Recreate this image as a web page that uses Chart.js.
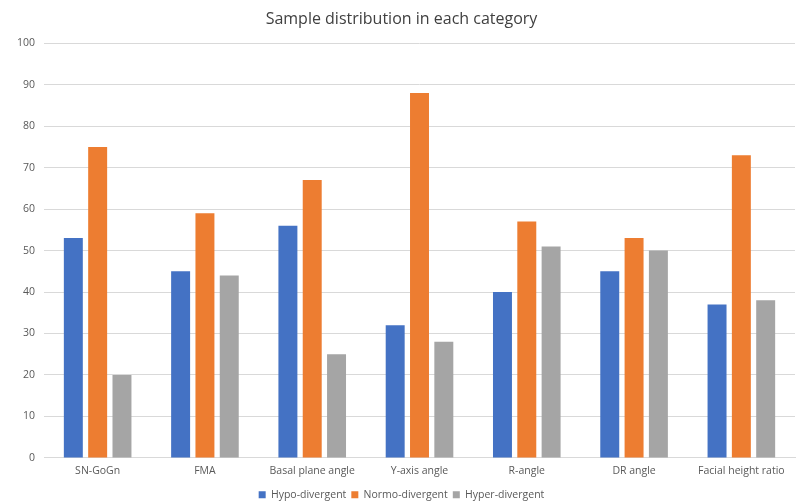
<!DOCTYPE html>
<html>
<head>
<meta charset="UTF-8">
<title>Sample distribution in each category</title>
<script src="https://cdn.jsdelivr.net/npm/chart.js@4"></script>
<style>
  html,body{margin:0;padding:0;background:#fff;}
  #wrap{width:801px;height:504px;}
</style>
</head>
<body>
<div id="wrap"><canvas id="c"></canvas></div>
<script>
const categories=["SN-GoGn","FMA","Basal plane angle","Y-axis angle","R-angle","DR angle","Facial height ratio"];
const hypo=[53,45,56,32,40,45,37];
const normo=[75,59,67,88,57,53,73];
const hyper=[20,44,25,28,51,50,38];
const seriesNames=["Hypo-divergent","Normo-divergent","Hyper-divergent"];
const colors=["#4472c4","#ed7d31","#a5a5a5"];

const font="'Open Sans', 'Liberation Sans', sans-serif";
Chart.defaults.font.family=font;
Chart.defaults.color="#595959";

new Chart(document.getElementById("c"),{
  type:"bar",
  data:{
    labels:categories,
    datasets:[hypo,normo,hyper].map((d,i)=>({
      label:seriesNames[i],data:d,backgroundColor:colors[i],
      categoryPercentage:0.68,barPercentage:0.78
    }))
  },
  options:{
    responsive:true,maintainAspectRatio:false,animation:false,
    layout:{padding:{left:8,right:6,top:6,bottom:-6}},
    plugins:{
      title:{display:true,text:"Sample distribution in each category",color:"#404040",
        font:{size:16,weight:"normal"},padding:{top:4,bottom:14}},
      legend:{position:"bottom",labels:{boxWidth:7,boxHeight:7,font:{size:10.5},color:"#595959",padding:5}},
      tooltip:{enabled:false}
    },
    scales:{
      x:{grid:{display:false,drawTicks:false},border:{color:"#d9d9d9"},
        ticks:{font:{size:10.5},color:"#595959",padding:7}},
      y:{min:0,max:100,ticks:{stepSize:10,font:{size:10.5},color:"#595959",padding:9},
        grid:{color:"#d9d9d9",drawTicks:false},border:{display:false}}
    }
  }
});
</script>
</body>
</html>
